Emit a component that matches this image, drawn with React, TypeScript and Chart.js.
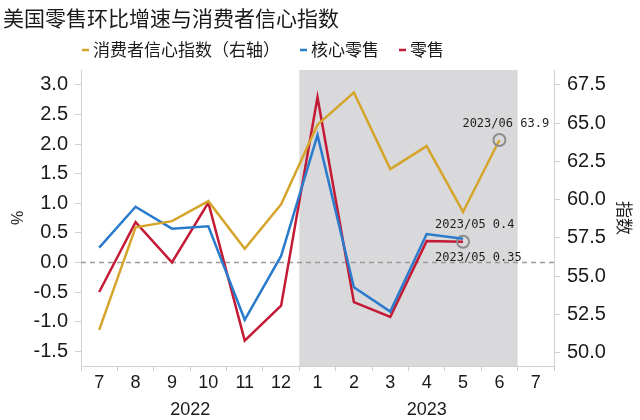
import { useEffect, useRef } from 'react';
import { Chart, registerables } from 'chart.js';

Chart.register(...registerables);

// ---- data ----
const months = ['7', '8', '9', '10', '11', '12', '1', '2', '3', '4', '5', '6', '7'];
const yearLabels = ['2022', '2023'];
const yearFirstIdx = [0, 6];
const yearLastIdx = [5, 12];

const confidence = [51.5, 58.2, 58.6, 59.9, 56.8, 59.7, 64.9, 67.0, 62.0, 63.5, 59.2, 63.9, null];
const coreRetail = [0.25, 0.94, 0.57, 0.61, -0.97, 0.11, 2.15, -0.42, -0.83, 0.48, 0.4, null, null];
const retail = [-0.5, 0.68, 0.0, 1.01, -1.32, -0.73, 2.79, -0.67, -0.92, 0.36, 0.35, null, null];

const leftTicks = [-1.5, -1.0, -0.5, 0.0, 0.5, 1.0, 1.5, 2.0, 2.5, 3.0];
const rightTicks = [50.0, 52.5, 55.0, 57.5, 60.0, 62.5, 65.0, 67.5];

const seriesNames = ['消费者信心指数（右轴）', '核心零售', '零售'];
const titleText = '美国零售环比增速与消费者信心指数';
const shadeFirstIdx = 6;
const shadeLastIdx = 11;

const COLORS = { gold: '#D4A52A', blue: '#2A7BCB', red: '#C41A36' };
const CJK = '"Noto Sans CJK SC", sans-serif';
const SANS = '"Liberation Sans", Arial, sans-serif';
const MONO = '"DejaVu Sans Mono", monospace';

function lastIndex(arr: (number | null)[]) {
  let idx = -1;
  arr.forEach((v, i) => { if (v !== null) idx = i; });
  return idx;
}

const decorPlugin = {
  id: 'decor',
  beforeDraw(chart: any) {
    const { ctx, chartArea } = chart;
    const x = chart.scales.x;
    const x0 = x.getPixelForValue(shadeFirstIdx - 0.5);
    const x1 = x.getPixelForValue(shadeLastIdx + 0.5);
    ctx.save();
    ctx.fillStyle = '#D9D9DC';
    ctx.fillRect(x0, chartArea.top, x1 - x0, chartArea.bottom - chartArea.top);
    ctx.restore();
  },
  beforeDatasetsDraw(chart: any) {
    const { ctx, chartArea } = chart;
    const y0 = chart.scales.y.getPixelForValue(0);
    ctx.save();
    ctx.strokeStyle = '#9A9A9A';
    ctx.lineWidth = 1.5;
    ctx.setLineDash([5, 4]);
    ctx.beginPath();
    ctx.moveTo(chartArea.left, y0);
    ctx.lineTo(chartArea.right, y0);
    ctx.stroke();
    ctx.restore();
  },
  afterDatasetsDraw(chart: any) {
    const { ctx } = chart;
    const xs = chart.scales.x;
    const yl = chart.scales.y;
    const yr = chart.scales.y1;
    ctx.save();
    ctx.font = '12px ' + MONO;
    ctx.fillStyle = '#1E1E1E';
    ctx.textBaseline = 'middle';
    ctx.textAlign = 'left';
    const iC = lastIndex(confidence);
    const pC = { x: xs.getPixelForValue(iC), y: yr.getPixelForValue(confidence[iC]) };
    ctx.fillText(`2023/0${months[iC]} ${Number(confidence[iC]).toFixed(1)}`, pC.x - 37, pC.y - 16);
    const iB = lastIndex(coreRetail);
    const pB = { x: xs.getPixelForValue(iB), y: yl.getPixelForValue(coreRetail[iB]) };
    ctx.fillText(`2023/0${months[iB]} ${coreRetail[iB]}`, pB.x - 28, pB.y - 14);
    const iR = lastIndex(retail);
    const pR = { x: xs.getPixelForValue(iR), y: yl.getPixelForValue(retail[iR]) };
    ctx.fillText(`2023/0${months[iR]} ${retail[iR]}`, pR.x - 28, pR.y + 16);
    ctx.restore();
  },
  afterDraw(chart: any) {
    const { ctx } = chart;
    const xs = chart.scales.x;
    ctx.save();
    // title
    ctx.font = '21px ' + CJK;
    ctx.fillStyle = '#1A1A1A';
    ctx.textBaseline = 'middle';
    ctx.textAlign = 'left';
    ctx.fillText(titleText, 3, 18);
    // legend
    ctx.font = '17px ' + CJK;
    let lx = 82;
    const ly = 50;
    chart.data.datasets.forEach((ds: any) => {
      ctx.strokeStyle = ds.borderColor;
      ctx.lineWidth = 2.5;
      ctx.beginPath();
      ctx.moveTo(lx, ly);
      ctx.lineTo(lx + 7, ly);
      ctx.stroke();
      lx += 11;
      ctx.fillStyle = '#1A1A1A';
      ctx.fillText(ds.label, lx, ly);
      lx += ctx.measureText(ds.label).width + 20;
    });
    // year labels
    ctx.font = '18px ' + SANS;
    ctx.textAlign = 'center';
    ctx.fillStyle = '#1A1A1A';
    yearLabels.forEach((yl, i) => {
      const cx = (xs.getPixelForValue(yearFirstIdx[i]) + xs.getPixelForValue(yearLastIdx[i])) / 2;
      ctx.fillText(yl, cx, 410);
    });
    ctx.restore();
  },
};

function ringRadius(arr: (number | null)[]) {
  const idx = lastIndex(arr);
  return (c: any) => (c.dataIndex === idx ? 6 : 0);
}

export default function App() {
  const ref = useRef<HTMLCanvasElement | null>(null);
  useEffect(() => {
    if (!ref.current) return;
    const chart = new Chart(ref.current, {
      type: 'line',
      data: {
        labels: months,
        datasets: [
          {
            label: seriesNames[0],
            data: confidence,
            yAxisID: 'y1',
            borderColor: COLORS.gold,
            borderWidth: 2.5,
            pointRadius: ringRadius(confidence),
            pointBorderColor: '#8C8C8C',
            pointBackgroundColor: 'rgba(0,0,0,0)',
            pointBorderWidth: 2,
            tension: 0,
          },
          {
            label: seriesNames[1],
            data: coreRetail,
            yAxisID: 'y',
            borderColor: COLORS.blue,
            borderWidth: 2.5,
            pointRadius: 0,
            tension: 0,
          },
          {
            label: seriesNames[2],
            data: retail,
            yAxisID: 'y',
            borderColor: COLORS.red,
            borderWidth: 2.5,
            pointRadius: ringRadius(retail),
            pointBorderColor: '#8C8C8C',
            pointBackgroundColor: 'rgba(0,0,0,0)',
            pointBorderWidth: 2,
            tension: 0,
          },
        ],
      },
      options: {
        responsive: false,
        animation: false,
        layout: { padding: { top: 70, left: 0, right: 0, bottom: 0 } },
        plugins: { legend: { display: false }, title: { display: false }, tooltip: { enabled: false } },
        scales: {
          x: {
            offset: true,
            grid: { offset: true, drawOnChartArea: false, drawTicks: true, tickLength: 5, color: '#CFCFCF' },
            border: { color: '#D0D0D0' },
            ticks: { font: { size: 18, family: SANS }, color: '#1A1A1A', padding: 1, maxRotation: 0, autoSkip: false },
            afterFit: (s: any) => { s.height = 54; },
          },
          y: {
            position: 'left',
            min: -1.75,
            max: 3.25,
            afterBuildTicks: (s: any) => { s.ticks = leftTicks.map((v) => ({ value: v })); },
            ticks: { font: { size: 20, family: SANS }, color: '#1A1A1A', padding: 7, callback: (v: any) => Number(v).toFixed(1) },
            grid: { drawOnChartArea: false, drawTicks: true, tickLength: 6, color: '#CFCFCF' },
            border: { color: '#D0D0D0' },
            title: { display: true, text: '%', font: { size: 16, family: SANS }, color: '#1A1A1A', padding: { top: 9, bottom: 0 } },
            afterFit: (s: any) => { s.width = 81; },
          },
          y1: {
            position: 'right',
            min: 49.14,
            max: 68.47,
            afterBuildTicks: (s: any) => { s.ticks = rightTicks.map((v) => ({ value: v })); },
            ticks: { font: { size: 20, family: SANS }, color: '#1A1A1A', padding: 7, callback: (v: any) => Number(v).toFixed(1) },
            grid: { drawOnChartArea: false, drawTicks: true, tickLength: 6, color: '#CFCFCF' },
            border: { color: '#D0D0D0' },
            title: { display: true, text: '指数', font: { size: 17, family: CJK }, color: '#1A1A1A', padding: { top: 5, bottom: 0 } },
            afterFit: (s: any) => { s.width = 86; },
          },
        },
      },
      plugins: [decorPlugin],
    });
    return () => chart.destroy();
  }, []);
  return (
    <div style={{ position: 'fixed', left: 0, top: 0, width: 640, height: 420, background: '#fff' }}>
      <canvas ref={ref} width={640} height={420} />
    </div>
  );
}
